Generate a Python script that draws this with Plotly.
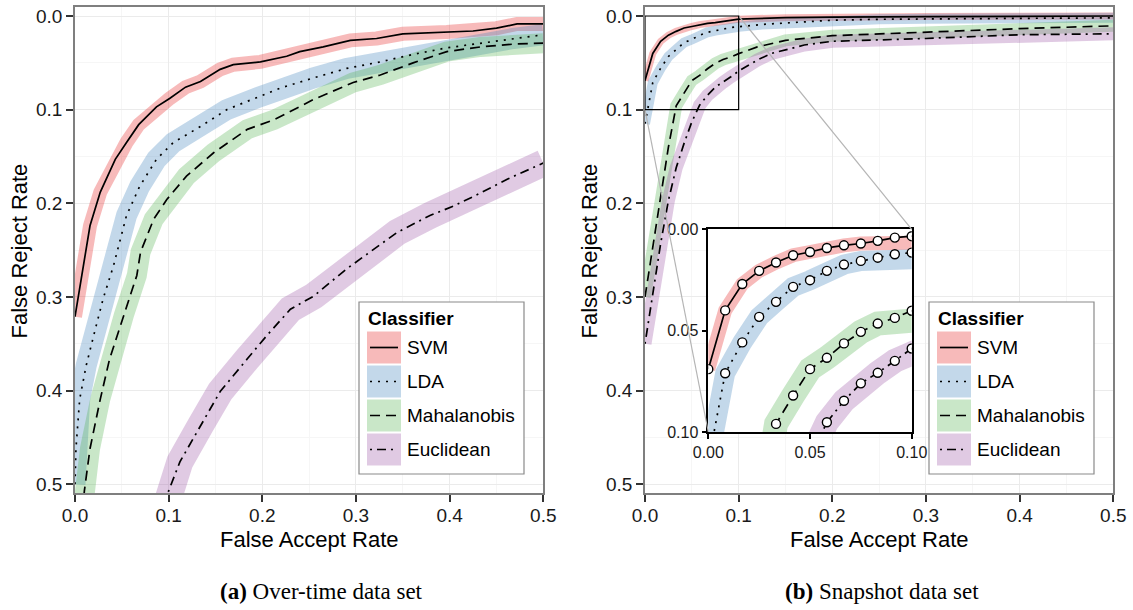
import plotly.graph_objects as go

W, H = 1133, 610
SANS = "Liberation Sans, Arial, Helvetica, sans-serif"
SERIF = "Liberation Serif, Times New Roman, serif"

# ---------------- data: (a) Over-time data set ----------------
svm_a_far = [0.0, 0.005, 0.011, 0.016, 0.027, 0.043, 0.055, 0.068, 0.087, 0.101, 0.118, 0.134,
             0.155, 0.169, 0.198, 0.226, 0.24, 0.265, 0.294, 0.322, 0.35, 0.397, 0.425, 0.45, 0.472, 0.5]
svm_a_frr = [0.321, 0.29, 0.256, 0.224, 0.188, 0.153, 0.135, 0.116, 0.097, 0.088, 0.076, 0.07,
             0.057, 0.052, 0.049, 0.043, 0.038, 0.033, 0.026, 0.024, 0.019, 0.017, 0.016, 0.013, 0.0085, 0.0085]

lda_a_far = [0.0, 0.001, 0.005, 0.012, 0.021, 0.03, 0.041, 0.055, 0.069, 0.087, 0.105, 0.134,
             0.162, 0.198, 0.219, 0.255, 0.29, 0.326, 0.361, 0.397, 0.433, 0.468, 0.5]
lda_a_frr = [0.50, 0.462, 0.409, 0.373, 0.337, 0.302, 0.267, 0.213, 0.182, 0.153, 0.135, 0.118,
             0.1, 0.086, 0.077, 0.066, 0.056, 0.049, 0.041, 0.034, 0.029, 0.024, 0.02]

mah_a_far = [0.008, 0.01, 0.016, 0.027, 0.037, 0.052, 0.066, 0.07, 0.084, 0.098, 0.119, 0.148,
             0.184, 0.212, 0.24, 0.255, 0.297, 0.326, 0.361, 0.397, 0.433, 0.468, 0.5]
mah_a_frr = [0.53, 0.507, 0.462, 0.409, 0.366, 0.32, 0.277, 0.252, 0.217, 0.196, 0.171, 0.146,
             0.121, 0.111, 0.097, 0.089, 0.071, 0.063, 0.05, 0.038, 0.033, 0.03, 0.029]

euc_a_far = [0.095, 0.1, 0.112, 0.134, 0.155, 0.184, 0.205, 0.23, 0.255, 0.29, 0.315, 0.344,
             0.379, 0.404, 0.433, 0.462, 0.5]
euc_a_frr = [0.53, 0.507, 0.476, 0.437, 0.401, 0.366, 0.341, 0.313, 0.299, 0.27, 0.252, 0.231,
             0.213, 0.203, 0.189, 0.174, 0.157]

# ---------------- data: (b) Snapshot data set ----------------
svm_b_far = [0.0, 0.0083, 0.0167, 0.025, 0.0333, 0.0417, 0.05, 0.0583, 0.0667, 0.075, 0.0833, 0.0917,
             0.1, 0.15, 0.2, 0.3, 0.4, 0.5]
svm_b_frr = [0.069, 0.040, 0.027, 0.0205, 0.0164, 0.0128, 0.0112, 0.0092, 0.0079, 0.0070, 0.0057, 0.0041,
             0.0034, 0.0018, 0.0011, 0.0006, 0.0003, 0.0]

lda_b_far = [0.0, 0.0083, 0.0167, 0.025, 0.0333, 0.0417, 0.05, 0.0583, 0.0667, 0.075, 0.0833, 0.0917,
             0.1, 0.125, 0.15, 0.2, 0.25, 0.3, 0.4, 0.5]
lda_b_frr = [0.115, 0.071, 0.0558, 0.0432, 0.0358, 0.0284, 0.0251, 0.0205, 0.0174, 0.0156, 0.014, 0.0123,
             0.0115, 0.009, 0.0075, 0.0045, 0.0035, 0.003, 0.0025, 0.002]

mah_b_far = [0.0, 0.0083, 0.0167, 0.025, 0.0333, 0.0417, 0.05, 0.0583, 0.0667, 0.075, 0.0833, 0.0917,
             0.1, 0.12, 0.15, 0.2, 0.25, 0.3, 0.4, 0.5]
mah_b_frr = [0.30, 0.248, 0.195, 0.14, 0.096, 0.082, 0.069, 0.0634, 0.0563, 0.0506, 0.0465, 0.0437,
             0.0402, 0.033, 0.026, 0.021, 0.019, 0.017, 0.0135, 0.0105]

euc_b_far = [0.0, 0.0083, 0.0167, 0.025, 0.0333, 0.0417, 0.05, 0.0583, 0.0667, 0.075, 0.0833, 0.0917,
             0.1, 0.12, 0.135, 0.17, 0.2, 0.24, 0.3, 0.4, 0.5]
euc_b_frr = [0.35, 0.295, 0.243, 0.197, 0.162, 0.136, 0.113, 0.0952, 0.0846, 0.076, 0.0708, 0.0649,
             0.0588, 0.047, 0.040, 0.031, 0.027, 0.026, 0.024, 0.020, 0.019]

classifiers = ["SVM", "LDA", "Mahalanobis", "Euclidean"]
axis_ticks = [0.0, 0.1, 0.2, 0.3, 0.4, 0.5]
inset_ticks = [0.0, 0.05, 0.1]
captions = ["<b>(a)</b> Over-time data set", "<b>(b)</b> Snapshot data set"]

# ---------------- styles ----------------
rgb = {"SVM": "228,26,28", "LDA": "55,126,184", "Mahalanobis": "77,175,74", "Euclidean": "152,78,163"}
dash = {"SVM": "solid", "LDA": "2px,6px", "Mahalanobis": "10px,6px", "Euclidean": "2px,5px,9px,5px"}
band_a = {"SVM": 14, "LDA": 21, "Mahalanobis": 20, "Euclidean": 27}
band_b = {"SVM": 7, "LDA": 10, "Mahalanobis": 12, "Euclidean": 13}
band_i = {"SVM": 14, "LDA": 20, "Mahalanobis": 24, "Euclidean": 24}

data_a = {"SVM": (svm_a_far, svm_a_frr), "LDA": (lda_a_far, lda_a_frr),
          "Mahalanobis": (mah_a_far, mah_a_frr), "Euclidean": (euc_a_far, euc_a_frr)}
data_b = {"SVM": (svm_b_far, svm_b_frr), "LDA": (lda_b_far, lda_b_frr),
          "Mahalanobis": (mah_b_far, mah_b_frr), "Euclidean": (euc_b_far, euc_b_frr)}

# ---------------- geometry (pixels) ----------------
PX_PER_UNIT = 936.6
LEFT = (75, 543.3)
RIGHT = (645, 1113.3)
TOP, BOTTOM = 7, 493
Y0_PX = 16  # pixel of FRR = 0
INSET = (708.3, 229.3, 911.7, 432)  # x0, y0(top), x1, y1(bottom)

def fx(px):
    return px / W

def fy(py):
    return 1 - py / H

y_range = [(BOTTOM - Y0_PX) / PX_PER_UNIT, (TOP - Y0_PX) / PX_PER_UNIT]

fig = go.Figure()

def add_series(data, bands, xa, ya, markers=False):
    for c in classifiers:
        x, y = data[c]
        fig.add_trace(go.Scatter(x=x, y=y, mode="lines", xaxis=xa, yaxis=ya,
                                 line=dict(color=f"rgba({rgb[c]},0.3)", width=bands[c]),
                                 hoverinfo="skip", showlegend=False))
    for c in classifiers:
        x, y = data[c]
        fig.add_trace(go.Scatter(x=x, y=y, mode="lines+markers" if markers else "lines",
                                 xaxis=xa, yaxis=ya, name=c,
                                 line=dict(color="black", width=1.7, dash=dash[c]),
                                 marker=dict(size=9, color="white", line=dict(color="black", width=1.4)),
                                 showlegend=False))

add_series(data_a, band_a, "x", "y")
add_series(data_b, band_b, "x2", "y2")
add_series(data_b, band_i, "x3", "y3", markers=True)

axis_common = dict(
    automargin=False,
    showline=True, mirror=True, linecolor="#7F7F7F", linewidth=1.5,
    ticks="outside", ticklen=7, tickwidth=1.5, tickcolor="#333333",
    showgrid=True, gridcolor="#EBEBEB", gridwidth=1, zeroline=False,
    tickfont=dict(family=SANS, size=19, color="#1A1A1A"),
    tickvals=axis_ticks, tickformat=".1f",
    minor=dict(dtick=0.05, tick0=0, showgrid=True, gridcolor="#F6F6F6", gridwidth=1),
)
inset_common = dict(
    automargin=False,
    showline=True, mirror=True, linecolor="black", linewidth=1.5,
    ticks="outside", ticklen=5, tickwidth=1.5, tickcolor="black",
    showgrid=False, zeroline=False,
    tickfont=dict(family=SANS, size=16, color="#1A1A1A"),
    tickvals=inset_ticks, tickformat=".2f",
)

fig.update_layout(
    width=W, height=H, margin=dict(l=0, r=0, t=0, b=0, pad=0), autosize=False,
    paper_bgcolor="white", plot_bgcolor="white", showlegend=False,
    xaxis=dict(domain=[fx(LEFT[0]), fx(LEFT[1])], range=[0, 0.5], anchor="y",
               ticklabelstandoff=-3, **axis_common),
    yaxis=dict(domain=[fy(BOTTOM), fy(TOP)], range=y_range, anchor="x", **axis_common),
    xaxis2=dict(domain=[fx(RIGHT[0]), fx(RIGHT[1])], range=[0, 0.5], anchor="y2",
                ticklabelstandoff=-3, **axis_common),
    yaxis2=dict(domain=[fy(BOTTOM), fy(TOP)], range=y_range, anchor="x2", **axis_common),
    xaxis3=dict(domain=[fx(INSET[0]), fx(INSET[2])], range=[0, 0.1], anchor="y3", **inset_common),
    yaxis3=dict(domain=[fy(INSET[3]), fy(INSET[1])], range=[0.1, 0], anchor="x3", **inset_common),
)

shapes = []
annotations = []

# zoom rectangle and connector lines on right panel
def to_x2(px):
    return (px - RIGHT[0]) / PX_PER_UNIT

def to_y2(py):
    return (py - Y0_PX) / PX_PER_UNIT

shapes.append(dict(type="line", xref="x2", yref="y2", x0=0.1, y0=0.0,
                   x1=to_x2(INSET[2]), y1=to_y2(INSET[1]), line=dict(color="#B5B5B5", width=1.2)))
shapes.append(dict(type="line", xref="x2", yref="y2", x0=0.0, y0=0.1,
                   x1=to_x2(INSET[0]), y1=to_y2(INSET[3]), line=dict(color="#B5B5B5", width=1.2)))
shapes.append(dict(type="rect", xref="x2", yref="y2", x0=0, y0=0, x1=0.1, y1=0.1,
                   line=dict(color="black", width=1.2)))

# legends
def add_legend(bx):
    shapes.append(dict(type="rect", xref="paper", yref="paper", x0=fx(bx), x1=fx(bx + 165),
                       y0=fy(474), y1=fy(302), line=dict(color="#8A8A8A", width=1.2),
                       fillcolor="white", layer="above"))
    annotations.append(dict(x=fx(bx + 7), y=fy(318), xref="paper", yref="paper",
                            text="<b>Classifier</b>", showarrow=False, xanchor="left", yanchor="middle",
                            font=dict(family=SANS, size=19, color="black")))
    for i, c in enumerate(classifiers):
        top = 331.5 + 34 * i
        cy = top + 16
        shapes.append(dict(type="rect", xref="paper", yref="paper", x0=fx(bx + 8), x1=fx(bx + 42),
                           y0=fy(top + 32), y1=fy(top), line=dict(width=0),
                           fillcolor=f"rgba({rgb[c]},0.3)", layer="above"))
        shapes.append(dict(type="line", xref="paper", yref="paper", x0=fx(bx + 11), x1=fx(bx + 39),
                           y0=fy(cy), y1=fy(cy), line=dict(color="black", width=1.7, dash=dash[c]),
                           layer="above"))
        annotations.append(dict(x=fx(bx + 46), y=fy(cy), xref="paper", yref="paper", text=c,
                                showarrow=False, xanchor="left", yanchor="middle",
                                font=dict(family=SANS, size=19, color="black")))

add_legend(359)
add_legend(929)

# axis titles
for cx in [(LEFT[0] + LEFT[1]) / 2, (RIGHT[0] + RIGHT[1]) / 2]:
    annotations.append(dict(x=fx(cx), y=fy(539), xref="paper", yref="paper", text="False Accept Rate",
                            showarrow=False, xanchor="center", yanchor="middle",
                            font=dict(family=SANS, size=22, color="black")))
for tx in [18.5, 588.5]:
    annotations.append(dict(x=fx(tx), y=fy(251), xref="paper", yref="paper", text="False Reject Rate",
                            textangle=-90, showarrow=False, xanchor="center", yanchor="middle",
                            font=dict(family=SANS, size=22, color="black")))

# captions
for cx, txt in zip([321.5, 882], captions):
    annotations.append(dict(x=fx(cx), y=fy(591), xref="paper", yref="paper", text=txt,
                            showarrow=False, xanchor="center", yanchor="middle",
                            font=dict(family=SERIF, size=23, color="black")))

fig.update_layout(shapes=shapes, annotations=annotations)
fig.write_html("out.html")
